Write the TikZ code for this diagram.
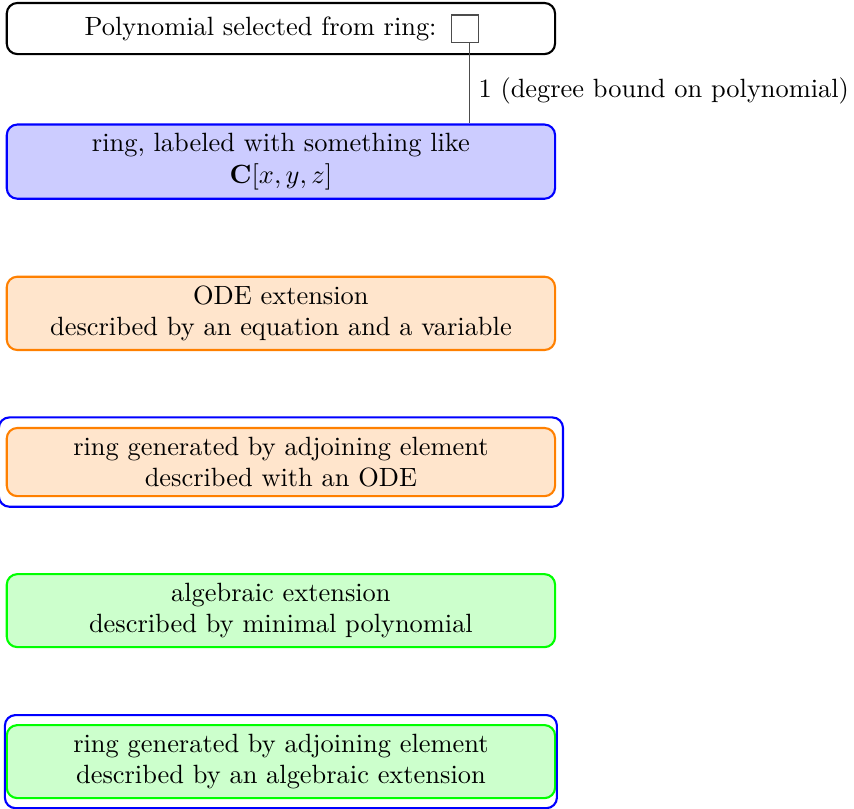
\documentclass[tikz,border=0pt]{standalone}
\usepackage{amsmath}
\usepackage{tikz}
\usepackage{amssymb}
\usetikzlibrary{positioning}

\begin{document}
\begin{tikzpicture}[
        box/.style={draw, thick, rounded corners=4pt, minimum width=7.3cm, align=center},
        ringbox/.style={box, blue, fill=blue!20, text=black},
        odebox/.style={box, orange, fill=orange!20, text=black},
        algbox/.style={box, green, fill=green!20, text=black},
        wrapbox/.style={draw, thick, blue, rounded corners=4pt},
        port/.style={draw, black!70, minimum size=0.36cm, inner sep=0pt},
        node distance=1.01cm
    ]
        \useasboundingbox (0,0) rectangle (11.37,-10.77);

        % Polynomial
        \node[box, minimum height=0.68cm] (poly) at (3.74,-0.38) {};
        \node (polytext) at (3.47,-0.38) {Polynomial selected from ring:};
        \node[port, right=2pt of polytext] (p1) {};

        % Ring
        \node[ringbox, below=0.91cm of poly] (ring) {ring, labeled with something like\\ $\mathbf{C}[x,y,z]$};
        \draw[black!70] ([xshift=1.5pt]p1.south) -- node[right, pos=0.6, text=black] {1 (degree bound on polynomial)} ([xshift=1.5pt]p1.south |- ring.north);

        % ODE
        \node[odebox, below=of ring] (ode) {ODE extension\\ described by an equation and a variable};
        \node[odebox, below=of ode] (odering) {ring generated by adjoining element\\ described with an ODE};
        \draw[wrapbox] ([xshift=-2.6pt, yshift=3.6pt]odering.north west) rectangle ([xshift=2.6pt, yshift=-3.6pt]odering.south east);

        % Algebraic
        \node[algbox, below=of odering] (alg) {algebraic extension\\ described by minimal polynomial};
        \node[algbox, below=of alg] (algring) {ring generated by adjoining element\\ described by an algebraic extension};
        \draw[wrapbox] ([xshift=-0.3pt, yshift=3.4pt]algring.north west) rectangle ([xshift=0.3pt, yshift=-3.4pt]algring.south east);
    \end{tikzpicture}
\end{document}
